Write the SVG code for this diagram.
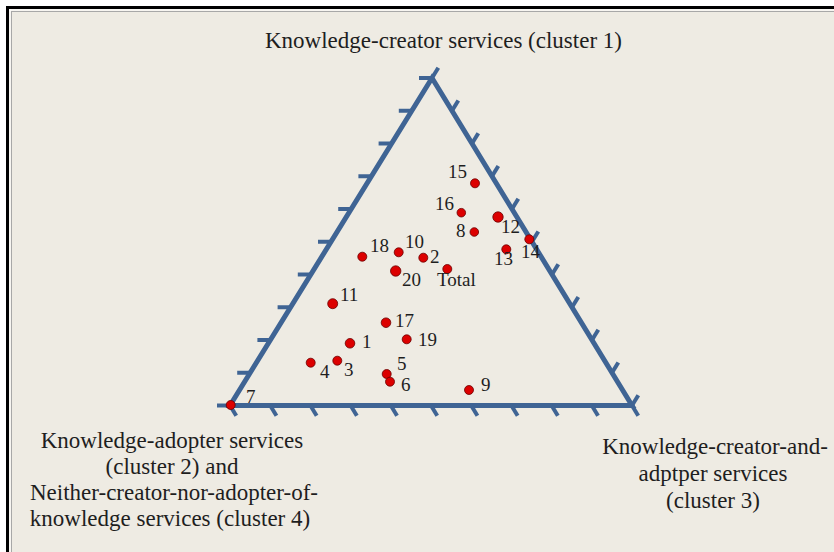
<svg xmlns="http://www.w3.org/2000/svg" width="834" height="552" viewBox="0 0 834 552">
<style>
.lbl{font-family:"Liberation Serif","Times New Roman",serif;font-size:23px;fill:#1e1e1e;text-anchor:middle}
.num{font-family:"Liberation Serif","Times New Roman",serif;font-size:19px;fill:#1e1e1e}
.dot{fill:#dc0000;stroke:#6a0000;stroke-width:0.8}
.edge{fill:none;stroke:#3f6494;stroke-width:5;stroke-linejoin:miter}
.tick{stroke:#3f6494;stroke-width:4;stroke-linecap:butt}
</style>
<rect x="0" y="0" width="834" height="552" fill="#ffffff"/>
<rect x="9" y="9" width="825" height="543" fill="#eeebe3"/>
<g id="frame">
<line x1="6" y1="7.5" x2="834" y2="7.5" stroke="#000" stroke-width="3"/>
<line x1="7.5" y1="6" x2="7.5" y2="552" stroke="#000" stroke-width="3"/>
<line x1="9" y1="10" x2="834" y2="10" stroke="#ffffff" stroke-width="1"/>
<line x1="10" y1="9" x2="10" y2="552" stroke="#ffffff" stroke-width="1"/>
<line x1="11" y1="11.5" x2="834" y2="11.5" stroke="#a8a8a8" stroke-width="1"/>
<line x1="11.5" y1="11" x2="11.5" y2="552" stroke="#a8a8a8" stroke-width="1"/>
</g>
<g id="axes">
<polygon class="edge" points="432,78 230,405.5 632,405.5"/>
<g id="ticks-left">
<line class="tick" x1="432" y1="78" x2="419" y2="78"/>
<line class="tick" x1="411.8" y1="110.75" x2="398.8" y2="110.75"/>
<line class="tick" x1="391.6" y1="143.5" x2="378.6" y2="143.5"/>
<line class="tick" x1="371.4" y1="176.25" x2="358.4" y2="176.25"/>
<line class="tick" x1="351.2" y1="209" x2="338.2" y2="209"/>
<line class="tick" x1="331" y1="241.75" x2="318" y2="241.75"/>
<line class="tick" x1="310.8" y1="274.5" x2="297.8" y2="274.5"/>
<line class="tick" x1="290.6" y1="307.25" x2="277.6" y2="307.25"/>
<line class="tick" x1="270.4" y1="340" x2="257.4" y2="340"/>
<line class="tick" x1="250.2" y1="372.75" x2="237.2" y2="372.75"/>
<line class="tick" x1="230" y1="405.5" x2="217" y2="405.5"/>
</g>
<g id="ticks-right">
<line class="tick" x1="432" y1="78" x2="438.3" y2="67.8"/>
<line class="tick" x1="452" y1="110.75" x2="458.3" y2="100.5"/>
<line class="tick" x1="472" y1="143.5" x2="478.3" y2="133.3"/>
<line class="tick" x1="492" y1="176.25" x2="498.3" y2="166"/>
<line class="tick" x1="512" y1="209" x2="518.3" y2="198.8"/>
<line class="tick" x1="532" y1="241.75" x2="538.3" y2="231.5"/>
<line class="tick" x1="552" y1="274.5" x2="558.3" y2="264.3"/>
<line class="tick" x1="572" y1="307.25" x2="578.3" y2="297"/>
<line class="tick" x1="592" y1="340" x2="598.3" y2="329.8"/>
<line class="tick" x1="612" y1="372.75" x2="618.3" y2="362.5"/>
<line class="tick" x1="632" y1="405.5" x2="638.3" y2="395.3"/>
</g>
<g id="ticks-bottom">
<line class="tick" x1="230" y1="405.5" x2="236.25" y2="415.7"/>
<line class="tick" x1="270.2" y1="405.5" x2="276.45" y2="415.7"/>
<line class="tick" x1="310.4" y1="405.5" x2="316.65" y2="415.7"/>
<line class="tick" x1="350.6" y1="405.5" x2="356.85" y2="415.7"/>
<line class="tick" x1="390.8" y1="405.5" x2="397.05" y2="415.7"/>
<line class="tick" x1="431" y1="405.5" x2="437.25" y2="415.7"/>
<line class="tick" x1="471.2" y1="405.5" x2="477.45" y2="415.7"/>
<line class="tick" x1="511.4" y1="405.5" x2="517.65" y2="415.7"/>
<line class="tick" x1="551.6" y1="405.5" x2="557.85" y2="415.7"/>
<line class="tick" x1="591.8" y1="405.5" x2="598.05" y2="415.7"/>
<line class="tick" x1="632" y1="405.5" x2="638.25" y2="415.7"/>
</g>
</g>
<g id="axis-labels">
<text class="lbl" x="443.5" y="48">Knowledge-creator services (cluster 1)</text>
<text class="lbl" x="172" y="448">Knowledge-adopter services</text>
<text class="lbl" x="172" y="474">(cluster 2) and</text>
<text class="lbl" x="174" y="500">Neither-creator-nor-adopter-of-</text>
<text class="lbl" x="170" y="526">knowledge services (cluster 4)</text>
<text class="lbl" x="715" y="454">Knowledge-creator-and-</text>
<text class="lbl" x="713" y="481">adptper services</text>
<text class="lbl" x="713" y="508">(cluster 3)</text>
</g>
<g id="points">
<g id="p18"><circle class="dot" cx="362.3" cy="256.7" r="4.5"/><text class="num" x="370" y="252">18</text></g>
<g id="p10"><circle class="dot" cx="398.7" cy="252.3" r="4.5"/><text class="num" x="405" y="248">10</text></g>
<g id="p2"><circle class="dot" cx="423.3" cy="257.7" r="4.5"/><text class="num" x="430" y="263">2</text></g>
<g id="p20"><circle class="dot" cx="395.7" cy="271" r="5.2"/><text class="num" x="402" y="286">20</text></g>
<g id="pTotal"><circle class="dot" cx="447.3" cy="269" r="4.5"/><text class="num" x="437" y="286">Total</text></g>
<g id="p11"><circle class="dot" cx="332.7" cy="303.7" r="5"/><text class="num" x="340" y="301">11</text></g>
<g id="p17"><circle class="dot" cx="386" cy="322.7" r="4.8"/><text class="num" x="395" y="327">17</text></g>
<g id="p1"><circle class="dot" cx="350" cy="343.3" r="4.8"/><text class="num" x="362" y="348">1</text></g>
<g id="p19"><circle class="dot" cx="406.7" cy="339.3" r="4.5"/><text class="num" x="418" y="346">19</text></g>
<g id="p4"><circle class="dot" cx="310.7" cy="362.7" r="4.5"/><text class="num" x="320" y="378">4</text></g>
<g id="p3"><circle class="dot" cx="337.3" cy="360.7" r="4.5"/><text class="num" x="344" y="376">3</text></g>
<g id="p5"><circle class="dot" cx="386.7" cy="374" r="4.5"/><text class="num" x="397" y="370">5</text></g>
<g id="p6"><circle class="dot" cx="390" cy="381.7" r="4.5"/><text class="num" x="401" y="391">6</text></g>
<g id="p7"><circle class="dot" cx="230.7" cy="405" r="4.5"/><text class="num" x="246" y="403">7</text></g>
<g id="p15"><circle class="dot" cx="475" cy="183.3" r="4.5"/><text class="num" x="448" y="178">15</text></g>
<g id="p16"><circle class="dot" cx="461.3" cy="212.7" r="4.3"/><text class="num" x="435" y="210">16</text></g>
<g id="p12"><circle class="dot" cx="498" cy="217" r="5.2"/><text class="num" x="501" y="233">12</text></g>
<g id="p8"><circle class="dot" cx="474.3" cy="232" r="4.3"/><text class="num" x="456" y="237">8</text></g>
<g id="p14"><circle class="dot" cx="529.3" cy="239.3" r="4.5"/><text class="num" x="521" y="258">14</text></g>
<g id="p13"><circle class="dot" cx="506.3" cy="249.3" r="4.5"/><text class="num" x="494" y="265">13</text></g>
<g id="p9"><circle class="dot" cx="469" cy="390" r="4.5"/><text class="num" x="481" y="391">9</text></g>
</g>
</svg>
